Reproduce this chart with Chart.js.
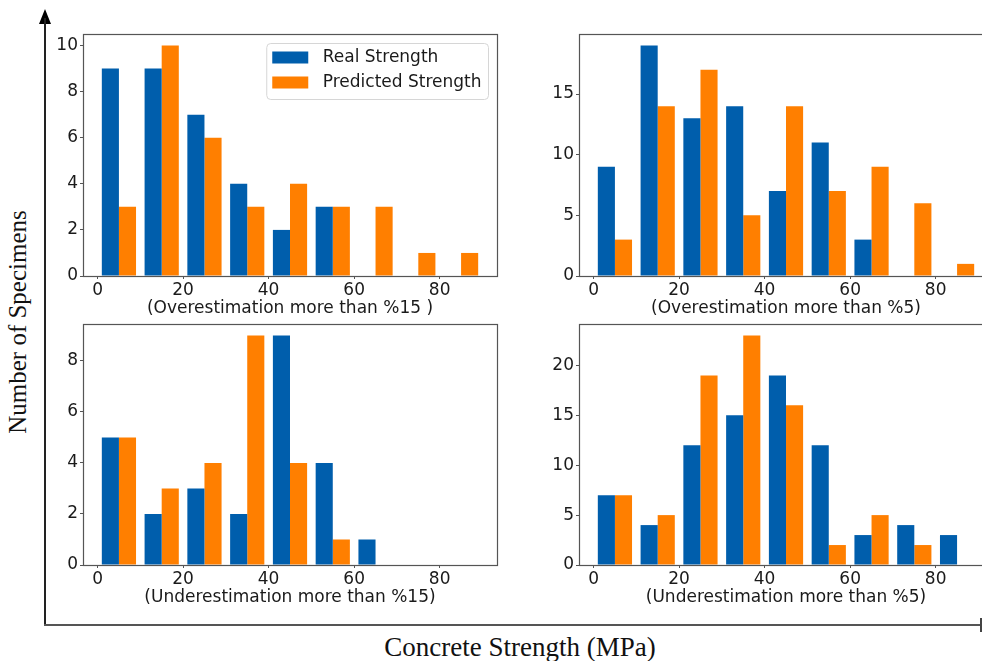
<!DOCTYPE html>
<html>
<head>
<meta charset="utf-8">
<script src="https://cdn.jsdelivr.net/npm/chart.js@4.4.0/dist/chart.umd.min.js"></script>
<style>
  html, body { margin: 0; padding: 0; background: #fff; }
  body { width: 982px; height: 661px; overflow: hidden; position: relative; }
  .panel { position: absolute; }
  .panel canvas { display: block; }
  #yLine { position: absolute; left: 44px; top: 18px; width: 1.5px; height: 608px; background: #222; }
  #yArrow { position: absolute; left: 39px; top: 9px; width: 0; height: 0;
            border-left: 6px solid transparent; border-right: 6px solid transparent; border-bottom: 15px solid #000; }
  #xLine { position: absolute; left: 44px; top: 624px; width: 940px; height: 2px; background: #555; }
  #xEnd { position: absolute; left: 980px; top: 618px; width: 1.5px; height: 14px; background: #444; }
  #yTitle { position: absolute; left: 18px; top: 322px; transform: translate(-50%, -50%) rotate(-90deg);
            font: 25px "Liberation Serif", "Times New Roman", serif; color: #111; white-space: nowrap; }
  #xTitle { position: absolute; left: 520px; top: 634px; transform: translateX(-50%);
            font: 27px "Liberation Serif", "Times New Roman", serif; line-height: 27px; color: #111; white-space: nowrap; }
</style>
</head>
<body>
<div id="yArrow"></div>
<div id="yLine"></div>
<div id="xLine"></div>
<div id="xEnd"></div>

<div class="panel" style="left:38px;top:20px"><canvas id="overFifteen" width="471" height="304"></canvas></div>
<div class="panel" style="left:534px;top:20px"><canvas id="overFive" width="471" height="304"></canvas></div>
<div class="panel" style="left:38px;top:310px"><canvas id="underFifteen" width="471" height="303"></canvas></div>
<div class="panel" style="left:534px;top:310px"><canvas id="underFive" width="471" height="303"></canvas></div>

<div id="yTitle">Number of Specimens</div>
<div id="xTitle">Concrete Strength (MPa)</div>

<script>
// histogram bins are 10 MPa wide, 0..90
const binCenters = [5, 15, 25, 35, 45, 55, 65, 75, 85];
const xTickValues = [0, 20, 40, 60, 80];
const xMin = -3.4, xMax = 93.4;

const seriesNames = ['Real Strength', 'Predicted Strength'];

const overReal15 = [9, 9, 7, 4, 2, 3, 0, 0, 0];
const overPred15 = [3, 10, 6, 3, 4, 3, 3, 1, 1];
const overReal5 = [9, 19, 13, 14, 7, 11, 3, 0, 0];
const overPred5 = [3, 14, 17, 5, 14, 7, 9, 6, 1];
const underReal15 = [5, 2, 3, 2, 9, 4, 1, 0, 0];
const underPred15 = [5, 3, 4, 9, 4, 1, 0, 0, 0];
const underReal5 = [7, 4, 12, 15, 19, 12, 3, 4, 3];
const underPred5 = [7, 5, 19, 23, 16, 2, 5, 2, 0];

const yTicksOver15 = [0, 2, 4, 6, 8, 10];
const yTicksOver5 = [0, 5, 10, 15];
const yTicksUnder15 = [0, 2, 4, 6, 8];
const yTicksUnder5 = [0, 5, 10, 15, 20];

const blue = '#005EAC';
const orange = '#FF7F00';
const spine = '#555';
const textColor = '#1a1a1a';
const tickFont = { family: '"DejaVu Sans", sans-serif', size: 17 };

// matplotlib draws all four spines
const framePlugin = {
  id: 'frame',
  afterDraw(chart) {
    const { ctx, chartArea: a } = chart;
    ctx.save();
    ctx.strokeStyle = spine;
    ctx.lineWidth = 1.2;
    ctx.strokeRect(Math.round(a.left) + 0.5, Math.round(a.top) + 0.5,
                   Math.round(a.right - a.left), Math.round(a.bottom - a.top));
    ctx.restore();
  }
};

// legend inside the top right corner of the plot
const legendPlugin = {
  id: 'boxLegend',
  afterDraw(chart, args, opts) {
    if (!opts.show) return;
    const { ctx, chartArea: a } = chart;
    ctx.save();
    ctx.font = '17px "DejaVu Sans", sans-serif';
    const names = chart.data.datasets.map(d => d.label);
    const textW = Math.max(...names.map(n => ctx.measureText(n).width));
    const w = 56 + textW + 7;
    const h = 56;
    const x0 = a.right - 9 - w;
    const y0 = a.top + 9;
    ctx.beginPath();
    if (ctx.roundRect) ctx.roundRect(x0 + 0.5, y0 + 0.5, w, h, 4);
    else ctx.rect(x0 + 0.5, y0 + 0.5, w, h);
    ctx.fillStyle = 'rgba(255,255,255,0.85)';
    ctx.fill();
    ctx.strokeStyle = '#d6d6d6';
    ctx.lineWidth = 1;
    ctx.stroke();
    chart.data.datasets.forEach((d, i) => {
      const cy = y0 + 14.5 + i * 25;
      ctx.fillStyle = d.backgroundColor;
      ctx.fillRect(x0 + 6, cy - 6, 36, 12);
      ctx.fillStyle = textColor;
      ctx.textBaseline = 'middle';
      ctx.textAlign = 'left';
      ctx.fillText(d.label, x0 + 56.5, cy);
    });
    ctx.restore();
  }
};

function makeChart(id, real, pred, yTicks, title, showLegend) {
  const yMax = Math.max(...real, ...pred) * 1.05;
  return new Chart(document.getElementById(id), {
    type: 'bar',
    data: {
      datasets: [
        { label: seriesNames[0], data: binCenters.map((x, i) => ({ x: x, y: real[i] })),
          backgroundColor: blue, borderWidth: 0, categoryPercentage: 0.8, barPercentage: 1.0 },
        { label: seriesNames[1], data: binCenters.map((x, i) => ({ x: x, y: pred[i] })),
          backgroundColor: orange, borderWidth: 0, categoryPercentage: 0.8, barPercentage: 1.0 }
      ]
    },
    options: {
      responsive: false,
      animation: false,
      devicePixelRatio: 1,
      layout: { padding: { top: 14, right: 12, left: 0, bottom: 0 } },
      plugins: {
        legend: { display: false },
        tooltip: { enabled: false },
        boxLegend: { show: showLegend }
      },
      scales: {
        x: {
          type: 'linear',
          min: xMin,
          max: xMax,
          bounds: 'data',
          offset: false,
          afterBuildTicks: s => { s.ticks = xTickValues.map(v => ({ value: v })); },
          afterFit: s => { s.height = 48; },
          grid: { drawOnChartArea: false, drawTicks: true, tickLength: 3, tickColor: spine, offset: false },
          border: { display: false },
          ticks: { font: tickFont, color: textColor, padding: 1, maxRotation: 0, autoSkip: false },
          title: { display: true, text: title, font: tickFont, color: textColor, padding: { top: 0, bottom: 5 } }
        },
        y: {
          type: 'linear',
          min: 0,
          max: yMax,
          afterBuildTicks: s => { s.ticks = yTicks.map(v => ({ value: v })); },
          afterFit: s => { s.width = 45; },
          grid: { drawOnChartArea: false, drawTicks: true, tickLength: 3, tickColor: spine },
          border: { display: false },
          ticks: { font: tickFont, color: textColor, padding: 2 }
        }
      }
    },
    plugins: [framePlugin, legendPlugin]
  });
}

makeChart('overFifteen', overReal15, overPred15, yTicksOver15, '(Overestimation more than %15 )', true);
makeChart('overFive', overReal5, overPred5, yTicksOver5, '(Overestimation more than %5)', false);
makeChart('underFifteen', underReal15, underPred15, yTicksUnder15, '(Underestimation more than %15)', false);
makeChart('underFive', underReal5, underPred5, yTicksUnder5, '(Underestimation more than %5)', false);
</script>
</body>
</html>
